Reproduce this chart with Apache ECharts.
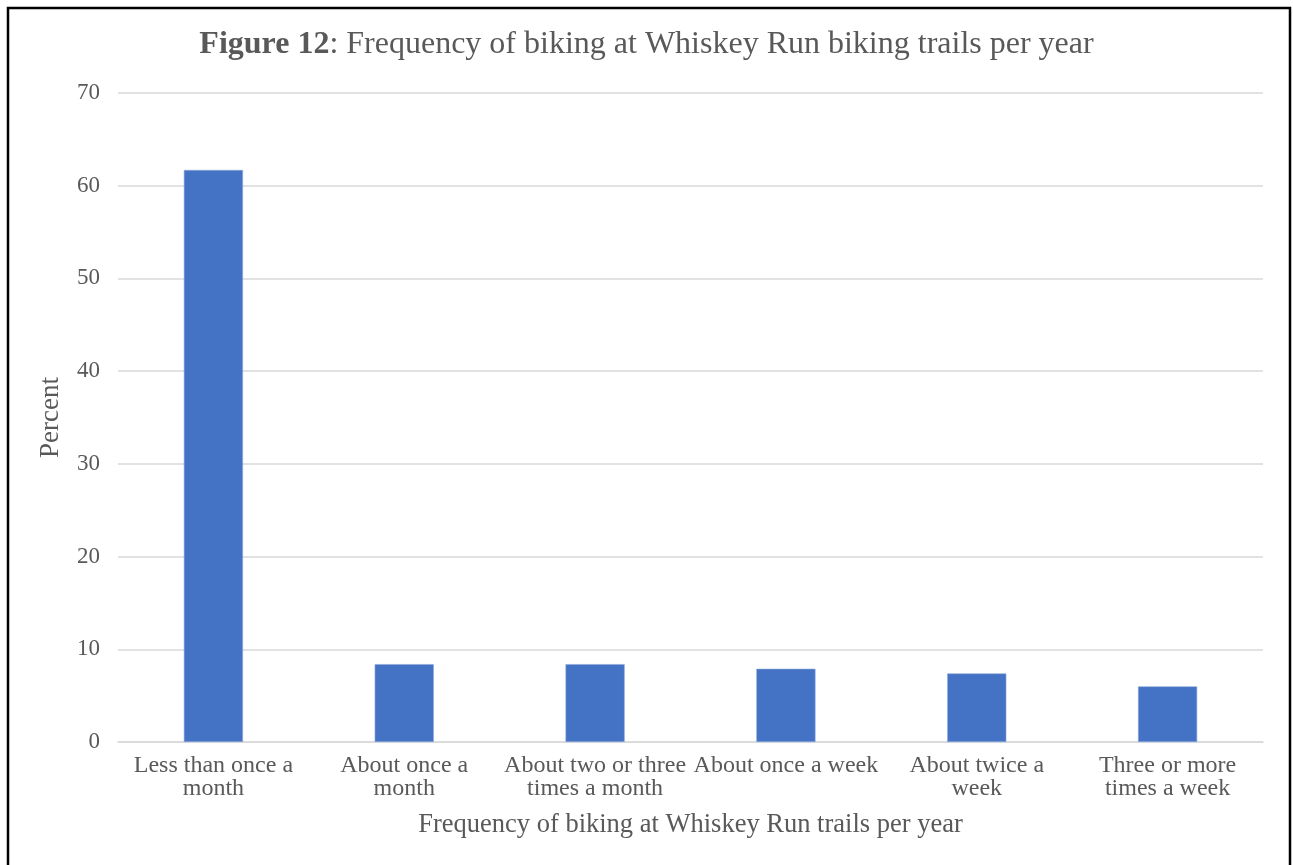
<!DOCTYPE html>
<html>
<head>
<meta charset="utf-8">
<script src="https://cdn.jsdelivr.net/npm/echarts@6/dist/echarts.min.js"></script>
<style>
  html, body { margin: 0; padding: 0; background: #fff; }
  #chart { width: 1293px; height: 865px; }
</style>
</head>
<body>
<div id="chart"></div>
<script>
// Survey answers: how often respondents bike at Whiskey Run trails
const categories = [
  'Less than once a\nmonth',
  'About once a\nmonth',
  'About two or three\ntimes a month',
  'About once a week',
  'About twice a\nweek',
  'Three or more\ntimes a week'
];
const percents = [61.7, 8.4, 8.4, 7.9, 7.4, 6.0];
const yTicks = { min: 0, max: 70, interval: 10 };

const FONT = '"Liberation Serif", "Times New Roman", serif';
const GRAY = '#595959';

const chart = echarts.init(document.getElementById('chart'), null, { renderer: 'canvas' });
chart.setOption({
  backgroundColor: '#fff',
  animation: false,
  title: {
    text: '{b|Figure 12}{r|: Frequency of biking at Whiskey Run biking trails per year}',
    left: 'center',
    top: 24,
    textStyle: {
      rich: {
        b: { fontFamily: FONT, fontSize: 32, fontWeight: 'bold', color: GRAY },
        r: { fontFamily: FONT, fontSize: 32, fontWeight: 'normal', color: GRAY }
      }
    }
  },
  grid: { left: 118, right: 30, top: 93, bottom: 123, containLabel: false },
  xAxis: {
    type: 'category',
    data: categories,
    name: 'Frequency of biking at Whiskey Run trails per year',
    nameLocation: 'middle',
    nameGap: 70,
    nameTextStyle: { fontFamily: FONT, fontSize: 26.5, color: GRAY },
    axisLine: { lineStyle: { color: '#d9d9d9', width: 1.5 } },
    axisTick: { show: false },
    axisLabel: {
      interval: 0,
      fontFamily: FONT,
      fontSize: 24,
      color: GRAY,
      lineHeight: 23,
      margin: 12
    }
  },
  yAxis: {
    type: 'value',
    min: yTicks.min,
    max: yTicks.max,
    interval: yTicks.interval,
    name: 'Percent',
    nameLocation: 'middle',
    nameGap: 54,
    nameRotate: 90,
    nameTextStyle: { fontFamily: FONT, fontSize: 27, color: GRAY },
    axisLine: { show: false },
    axisTick: { show: false },
    axisLabel: { fontFamily: FONT, fontSize: 23, color: GRAY, margin: 18 },
    splitLine: { lineStyle: { color: '#d9d9d9', width: 1.5 } }
  },
  series: [{
    type: 'bar',
    data: percents,
    barWidth: '31%',
    itemStyle: { color: '#4472C4', borderColor: '#8faadc', borderWidth: 0.6 }
  }],
  graphic: [{
    type: 'rect',
    shape: { x: 8, y: 8, width: 1282, height: 870 },
    style: { fill: null, stroke: '#000', lineWidth: 2.5 },
    silent: true
  }]
});
</script>
</body>
</html>
